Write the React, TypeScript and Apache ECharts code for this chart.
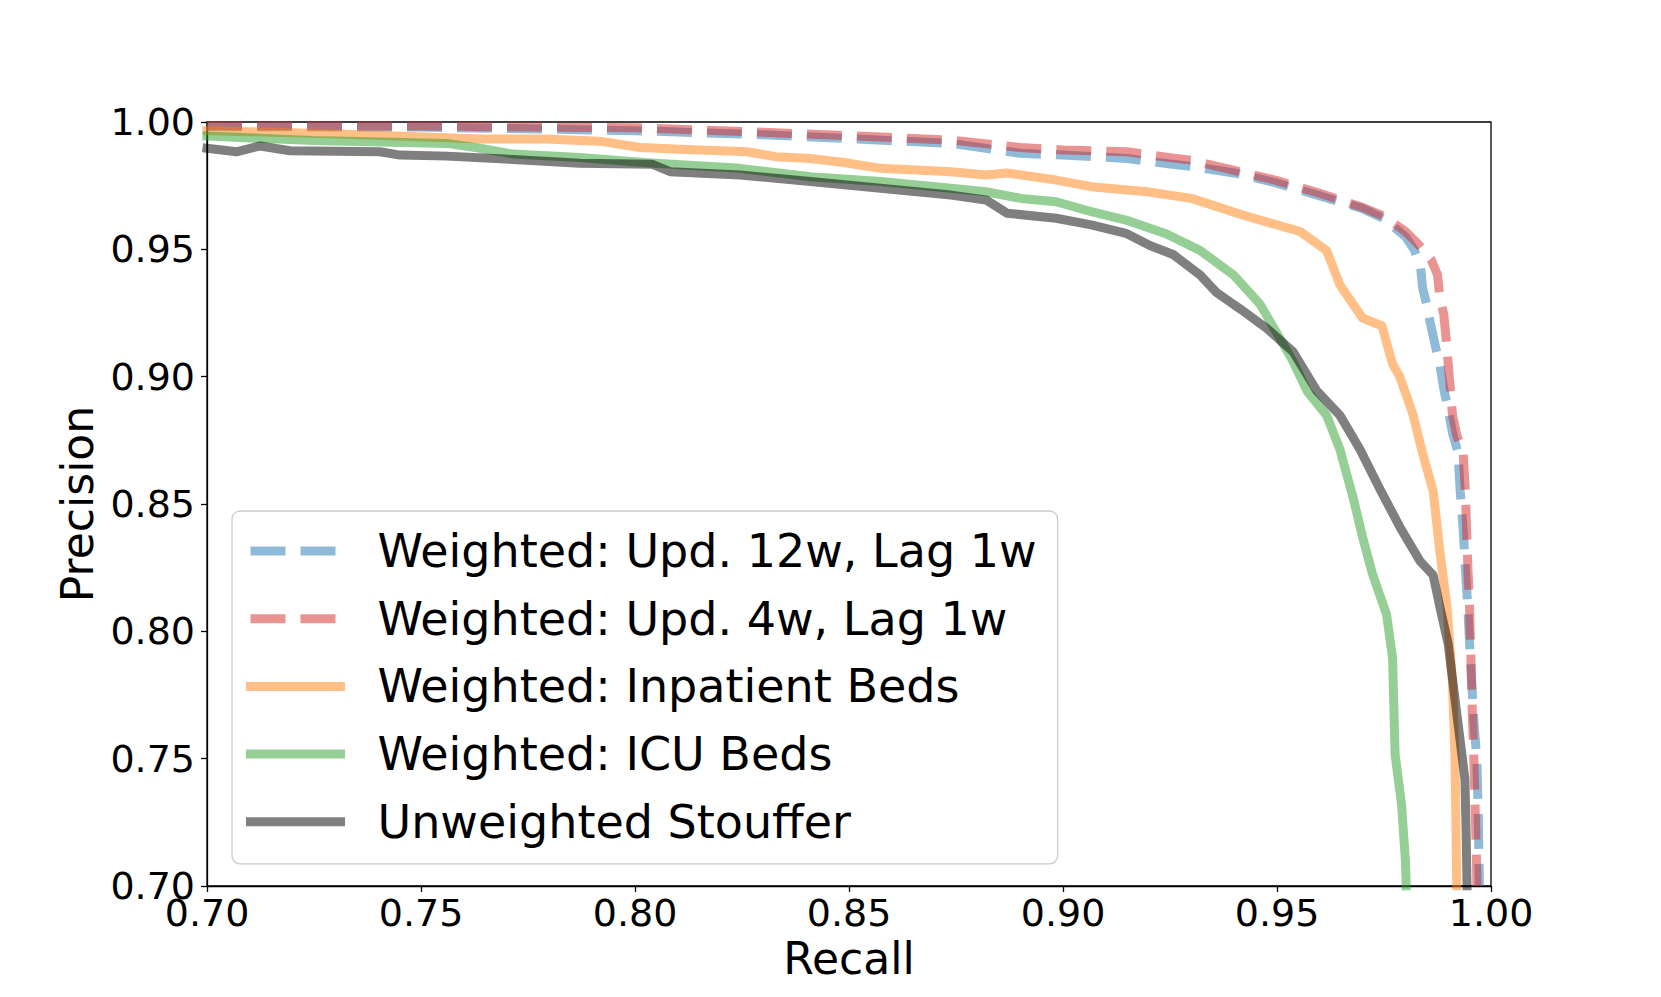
import React, { useEffect, useRef } from "react";
import * as echarts from "echarts";

const xTicks = { min: 0.7, max: 1.0, interval: 0.05 };
const yTicks = { min: 0.7, max: 1.0, interval: 0.05 };

const seriesNames = [
  "Weighted: Upd. 12w, Lag 1w",
  "Weighted: Upd. 4w, Lag 1w",
  "Weighted: Inpatient Beds",
  "Weighted: ICU Beds",
  "Unweighted Stouffer",
];

const upd12w: [number, number][] = [
  [0.7, 0.9982], [0.75, 0.998], [0.8, 0.9966], [0.83, 0.995], [0.874, 0.9916],
  [0.89, 0.9877], [0.9, 0.987], [0.915, 0.9857], [0.925, 0.9835], [0.93, 0.9826],
  [0.94, 0.98], [0.95, 0.976], [0.96, 0.971], [0.97, 0.966], [0.975, 0.962],
  [0.98, 0.955], [0.982, 0.95], [0.9835, 0.944], [0.984, 0.935], [0.985, 0.928],
  [0.9857, 0.922], [0.987, 0.912], [0.988, 0.905], [0.989, 0.895], [0.99, 0.887],
  [0.991, 0.878], [0.9923, 0.87], [0.9928, 0.855], [0.9935, 0.84], [0.994, 0.825],
  [0.9946, 0.809], [0.995, 0.795], [0.9955, 0.78], [0.996, 0.765], [0.9967, 0.749],
  [0.997, 0.73], [0.9972, 0.71], [0.9973, 0.7],
];

const upd4w: [number, number][] = [
  [0.7, 0.9986], [0.75, 0.9984], [0.8, 0.9977], [0.83, 0.996], [0.874, 0.9929],
  [0.89, 0.99], [0.9, 0.989], [0.915, 0.9883], [0.925, 0.986], [0.93, 0.985],
  [0.94, 0.981], [0.95, 0.977], [0.96, 0.972], [0.97, 0.9665], [0.975, 0.963],
  [0.98, 0.957], [0.983, 0.952], [0.986, 0.946], [0.9875, 0.94], [0.988, 0.932],
  [0.989, 0.924], [0.9895, 0.915], [0.99, 0.905], [0.9905, 0.895], [0.991, 0.885],
  [0.992, 0.877], [0.9935, 0.87], [0.994, 0.855], [0.9943, 0.84], [0.9946, 0.825],
  [0.995, 0.809], [0.9953, 0.79], [0.9956, 0.77], [0.996, 0.749], [0.9963, 0.73],
  [0.9966, 0.71], [0.9967, 0.7],
];

const inpatient: [number, number][] = [
  [0.7, 0.9966], [0.7326, 0.9952], [0.7638, 0.9933], [0.7794, 0.9933], [0.7925, 0.9923],
  [0.8012, 0.99], [0.8105, 0.9893], [0.8262, 0.9883], [0.8328, 0.9864], [0.841, 0.9857],
  [0.8492, 0.984], [0.8574, 0.9818], [0.8738, 0.9805], [0.882, 0.9792], [0.8869, 0.98],
  [0.8984, 0.9772], [0.9066, 0.9746], [0.9196, 0.9726], [0.93, 0.97], [0.9429, 0.963],
  [0.9554, 0.957], [0.9616, 0.9495], [0.9647, 0.936], [0.97, 0.923], [0.9745, 0.92],
  [0.977, 0.905], [0.9787, 0.9], [0.9818, 0.885], [0.984, 0.87], [0.9865, 0.855],
  [0.988, 0.832], [0.9897, 0.81], [0.991, 0.78], [0.9916, 0.75], [0.992, 0.7],
];

const icu: [number, number][] = [
  [0.7, 0.9945], [0.7248, 0.9927], [0.7561, 0.9916], [0.7638, 0.9897], [0.7715, 0.9874],
  [0.7871, 0.9861], [0.8028, 0.984], [0.8245, 0.9818], [0.841, 0.9785], [0.8574, 0.9766],
  [0.8738, 0.974], [0.882, 0.9726], [0.8902, 0.97], [0.8984, 0.9687], [0.9066, 0.9648],
  [0.9147, 0.9615], [0.9242, 0.956], [0.932, 0.9496], [0.9398, 0.94], [0.946, 0.9285],
  [0.9507, 0.915], [0.9538, 0.9058], [0.957, 0.8944], [0.9616, 0.8848], [0.9647, 0.8714],
  [0.9678, 0.8524], [0.97, 0.837], [0.9724, 0.822], [0.9756, 0.8066], [0.977, 0.7896],
  [0.9776, 0.7515], [0.9791, 0.732], [0.98, 0.71], [0.9802, 0.7],
];

const stouffer: [number, number][] = [
  [0.7, 0.9897], [0.7069, 0.9883], [0.7124, 0.9906], [0.7194, 0.9887], [0.7404, 0.9883],
  [0.7451, 0.987], [0.7561, 0.9866], [0.7715, 0.9853], [0.7871, 0.9838], [0.8041, 0.9834],
  [0.8082, 0.9805], [0.8245, 0.9792], [0.841, 0.9766], [0.8574, 0.974], [0.8738, 0.9713],
  [0.882, 0.9694], [0.8869, 0.9642], [0.8984, 0.9622], [0.9066, 0.9596], [0.9147, 0.9563],
  [0.9203, 0.9515], [0.9257, 0.948], [0.932, 0.94], [0.9359, 0.933], [0.9414, 0.9266],
  [0.9476, 0.919], [0.9538, 0.9097], [0.9593, 0.8944], [0.9647, 0.8848], [0.9694, 0.8714],
  [0.974, 0.856], [0.9787, 0.841], [0.9834, 0.8276], [0.9865, 0.822], [0.988, 0.81],
  [0.99, 0.795], [0.9911, 0.78], [0.9928, 0.757], [0.9939, 0.742], [0.9942, 0.72],
  [0.9944, 0.7],
];

const seriesData = [upd12w, upd4w, inpatient, icu, stouffer];
const seriesColors = [
  "rgba(31,119,180,0.5)",
  "rgba(214,39,40,0.5)",
  "rgba(255,127,14,0.5)",
  "rgba(44,160,44,0.5)",
  "rgba(0,0,0,0.5)",
];
const seriesDashed = [true, true, false, false, false];

const FONT = "DejaVu Sans";

export default function App() {
  const ref = useRef<HTMLDivElement>(null);
  useEffect(() => {
    if (!ref.current) return;
    const chart = echarts.init(ref.current, null, { renderer: "svg" });
    const axisCommon = {
      type: "value" as const,
      axisLine: { show: true, lineStyle: { color: "#000", width: 1.3 } },
      axisTick: { show: true, length: 6, lineStyle: { color: "#000", width: 1.3 } },
      splitLine: { show: false },
      axisLabel: {
        color: "#000",
        fontSize: 38,
        fontFamily: FONT,
        formatter: (v: number) => v.toFixed(2),
      },
      nameTextStyle: { color: "#000", fontSize: 44, fontFamily: FONT },
    };
    chart.setOption({
      animation: false,
      backgroundColor: "#fff",
      grid: {
        left: 207,
        right: 170,
        top: 122,
        bottom: 111,
        show: true,
        borderColor: "#000",
        borderWidth: 1.3,
        backgroundColor: "transparent",
      },
      xAxis: {
        ...axisCommon,
        min: xTicks.min,
        max: xTicks.max,
        interval: xTicks.interval,
        name: "Recall",
        nameLocation: "middle",
        nameGap: 46,
        axisLabel: { ...axisCommon.axisLabel, margin: 8 },
      },
      yAxis: {
        ...axisCommon,
        min: yTicks.min,
        max: yTicks.max,
        interval: yTicks.interval,
        name: "Precision",
        nameLocation: "middle",
        nameGap: 95,
        axisLabel: { ...axisCommon.axisLabel, margin: 12 },
      },
      legend: {
        orient: "vertical",
        left: 232,
        top: 511,
        padding: [17, 21, 19, 14],
        itemWidth: 90,
        itemHeight: 9,
        itemGap: 21.7,
        selectedMode: false,
        backgroundColor: "rgba(255,255,255,0.8)",
        borderColor: "#cccccc",
        borderWidth: 1.3,
        borderRadius: 8,
        itemStyle: { opacity: 0 },
        lineStyle: { width: 9 },
        textStyle: {
          color: "#000",
          fontSize: 46,
          fontFamily: FONT,
          lineHeight: 46,
          padding: [0, 0, 0, 32],
        },
        data: seriesNames,
      },
      series: seriesNames.map((name, i) => ({
        type: "line",
        name,
        data: seriesData[i],
        showSymbol: false,
        symbol: "none",
        z: 2 + i,
        lineStyle: {
          color: seriesColors[i],
          width: 9,
          type: seriesDashed[i] ? [35, 15] : "solid",
          cap: seriesDashed[i] ? "butt" : "square",
          join: "round",
        },
        itemStyle: { color: seriesColors[i] },
      })),
    });
    return () => chart.dispose();
  }, []);
  return (
    <div
      ref={ref}
      style={{ position: "absolute", left: 0, top: 0, width: 1661, height: 997 }}
    />
  );
}
